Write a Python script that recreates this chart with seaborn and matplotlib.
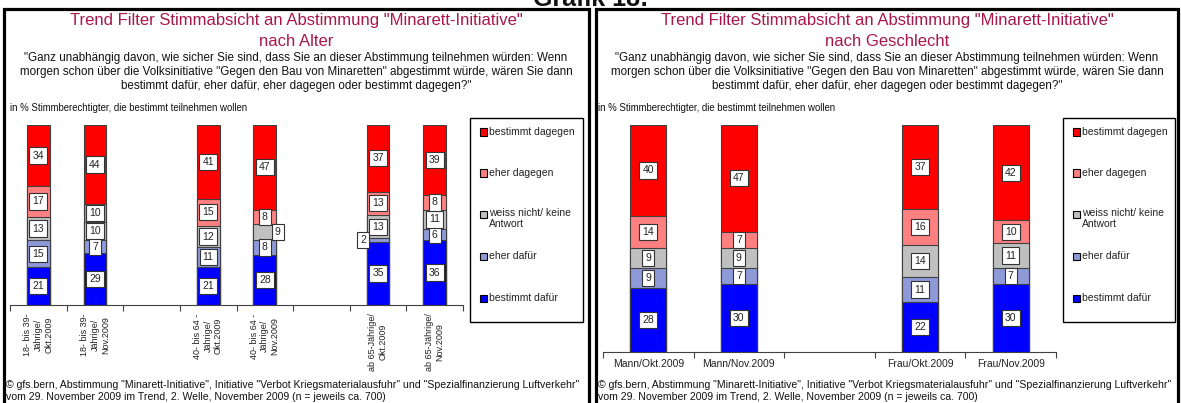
import numpy as np
import pandas as pd
import matplotlib
matplotlib.use("Agg")
import matplotlib.pyplot as plt
import seaborn as sns
from matplotlib.patches import Rectangle
from matplotlib.lines import Line2D

# Data
layer_names = ["bestimmt dafür", "eher dafür", "weiss nicht/ keine Antwort", "eher dagegen", "bestimmt dagegen"]
layer_colors = ["#0000FF", "#8E99D8", "#C0C0C0", "#FF8080", "#FF0000"]
legend_labels = ["bestimmt dagegen", "eher dagegen", "weiss nicht/ keine\nAntwort", "eher dafür", "bestimmt dafür"]

age_cats = ["18- bis 39-\nJährige/\nOkt.2009", "18- bis 39-\nJährige/\nNov.2009",
            "40- bis 64 -\nJährige/\nOkt.2009", "40- bis 64 -\nJährige/\nNov.2009",
            "ab 65-Jährige/\nOkt.2009", "ab 65-Jährige/\nNov.2009"]
age_order = [age_cats[0], age_cats[1], " ", age_cats[2], age_cats[3], "  ", age_cats[4], age_cats[5]]
age_dafuer = [21, 29, 21, 28, 35, 36]
age_eher_dafuer = [15, 7, 11, 8, 2, 6]
age_weiss = [13, 10, 12, 9, 13, 11]
age_eher_dagegen = [17, 10, 15, 8, 13, 8]
age_dagegen = [34, 44, 41, 47, 37, 39]

sex_cats = ["Mann/Okt.2009", "Mann/Nov.2009", "Frau/Okt.2009", "Frau/Nov.2009"]
sex_order = [sex_cats[0], sex_cats[1], " ", sex_cats[2], sex_cats[3]]
sex_dafuer = [28, 30, 22, 30]
sex_eher_dafuer = [9, 7, 11, 7]
sex_weiss = [9, 9, 14, 11]
sex_eher_dagegen = [14, 7, 16, 10]
sex_dagegen = [40, 47, 37, 42]

title_line = 'Trend Filter Stimmabsicht an Abstimmung "Minarett-Initiative"'
question = ('"Ganz unabhängig davon, wie sicher Sie sind, dass Sie an dieser Abstimmung teilnehmen würden: Wenn\n'
            'morgen schon über die Volksinitiative "Gegen den Bau von Minaretten" abgestimmt würde, wären Sie dann\n'
            'bestimmt dafür, eher dafür, eher dagegen oder bestimmt dagegen?"')
unit_note = "in % Stimmberechtigter, die bestimmt teilnehmen wollen"
footer = ('© gfs.bern, Abstimmung "Minarett-Initiative", Initiative "Verbot Kriegsmaterialausfuhr" und "Spezialfinanzierung Luftverkehr"\n'
          'vom 29. November 2009 im Trend, 2. Welle, November 2009 (n = jeweils ca. 700)')

sns.set_theme(style="white")
plt.rcParams['font.family'] = ['Liberation Sans', 'DejaVu Sans']

W, H = 1181, 403
fig = plt.figure(figsize=(W / 100, H / 100), dpi=100)


def fx(px):
    return px / W


def fy(py):
    return 1 - py / H


TITLE_COLOR = "#A8174A"


def draw_bars(ax, cats, order, series, nudges):
    cums = np.cumsum(np.array(series), axis=0)
    # draw from the total down, each layer covering the one before
    for i in reversed(range(len(series))):
        sns.barplot(x=cats, y=cums[i], order=order, color=layer_colors[i], saturation=1,
                    width=0.4, edgecolor="#404040", linewidth=0.8, errorbar=None, ax=ax)
    for i, vals in enumerate(series):
        for j, v in enumerate(vals):
            xpos = order.index(cats[j])
            ycen = cums[i][j] - v / 2
            dx, dy = nudges.get((j, i), (0, 0))
            ax.text(xpos + dx, ycen + dy, str(v), ha="center", va="center", fontsize=7.5,
                    color="#222222",
                    bbox=dict(boxstyle="square,pad=0.3", fc="white", ec="#333333", lw=0.8))
    ax.set_ylim(0, 100)
    ax.set_xlim(-0.5, len(order) - 0.5)
    ax.set_yticks([])
    ax.set_xlabel("")
    ax.set_ylabel("")
    for s in ["top", "right", "left"]:
        ax.spines[s].set_visible(False)
    ax.spines["bottom"].set_color("#404040")
    ax.spines["bottom"].set_linewidth(0.8)
    ax.set_xticks(np.arange(-0.5, len(order)), [""] * (len(order) + 1))
    ax.tick_params(axis="x", which="major", bottom=True, length=4, width=0.8, color="#404040")
    ax.set_xticks(np.arange(len(order)), minor=True)
    ax.tick_params(axis="x", which="minor", bottom=True, length=0)


def draw_legend(x0, y0, x1, y1):
    fig.patches.append(Rectangle((fx(x0), fy(y1)), fx(x1) - fx(x0), fy(y0) - fy(y1),
                                 transform=fig.transFigure, fc="white", ec="black", lw=1.0))
    rows = [132, 173, 214, 256, 298]
    cols = layer_colors[::-1]
    for r, lab, c in zip(rows, legend_labels, cols):
        fig.patches.append(Rectangle((fx(x0 + 10), fy(r + 3.5)), fx(7), 7 / H,
                                     transform=fig.transFigure, fc=c, ec="black", lw=0.8))
        if "\n" in lab:
            fig.text(fx(x0 + 19), fy(r - 6), lab, fontsize=7.5, color="#222222", va="top", ha="left",
                     linespacing=1.15)
        else:
            fig.text(fx(x0 + 19), fy(r), lab, fontsize=7.5, color="#222222", va="center", ha="left")


def draw_header(cx, sub):
    fig.text(fx(cx), fy(20), title_line, ha="center", va="center", fontsize=12, color=TITLE_COLOR)
    fig.text(fx(cx), fy(41), sub, ha="center", va="center", fontsize=12, color=TITLE_COLOR)
    fig.text(fx(cx), fy(72), question, ha="center", va="center", fontsize=8.4, color="#111111",
             linespacing=1.22)


# Left panel: nach Alter
ax1 = fig.add_axes([fx(10), fy(305), fx(463) - fx(10), fy(125) - fy(305)])
age_series = [age_dafuer, age_eher_dafuer, age_weiss, age_eher_dagegen, age_dagegen]
draw_bars(ax1, age_cats, age_order, age_series, {(4, 1): (-0.26, 0), (3, 2): (0.23, 0)})
ax1.set_xticklabels(age_order, minor=True, rotation=90, fontsize=6.5, va="top", ha="center",
                    color="#222222")
ax1.tick_params(axis="x", which="minor", pad=6)
draw_header(296, "nach Alter")
fig.text(fx(10), fy(108), unit_note, fontsize=6.9, va="center", ha="left", color="#111111")
draw_legend(470, 118, 583, 322)
fig.text(fx(6), fy(391), footer, fontsize=7.6, va="center", ha="left", color="#111111", linespacing=1.15)

# Right panel: nach Geschlecht
ax2 = fig.add_axes([fx(603), fy(352), fx(1056) - fx(603), fy(125) - fy(352)])
sex_series = [sex_dafuer, sex_eher_dafuer, sex_weiss, sex_eher_dagegen, sex_dagegen]
draw_bars(ax2, sex_cats, sex_order, sex_series, {})
ax2.set_xticklabels(sex_order, minor=True, fontsize=7.5, color="#222222")
ax2.tick_params(axis="x", which="minor", pad=5)
draw_header(887, "nach Geschlecht")
fig.text(fx(598), fy(108), unit_note, fontsize=6.9, va="center", ha="left", color="#111111")
draw_legend(1063, 118, 1175, 322)
fig.text(fx(598), fy(391), footer, fontsize=7.6, va="center", ha="left", color="#111111", linespacing=1.15)

# Panel frames
for xa, xb in [(4, 589), (596, 1178)]:
    fig.add_artist(Line2D([fx(xa), fx(xa), fx(xb), fx(xb)], [0, fy(9), fy(9), 0],
                          transform=fig.transFigure, color="black", lw=2.3, solid_joinstyle="miter"))

fig.text(0.5, fy(6), "Grafik 18:", ha="center", va="baseline", fontsize=18, fontweight="bold", color="#111111")

fig.savefig("out.png", dpi=100)
